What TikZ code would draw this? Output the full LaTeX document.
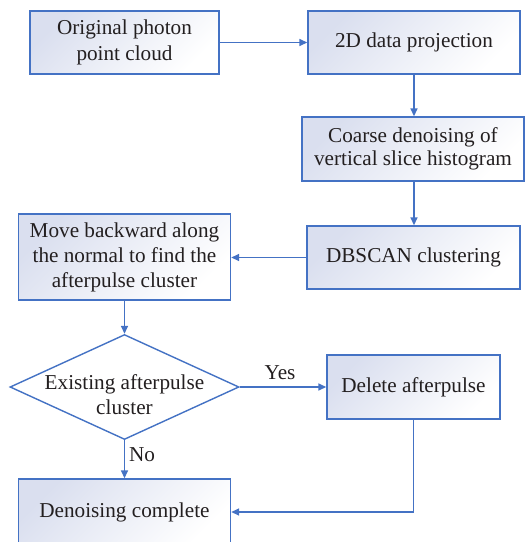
\documentclass[tikz,border=0pt]{standalone}
\usepackage{fontspec}
\setmainfont{Liberation Serif}
\usetikzlibrary{arrows.meta,shapes.geometric}
\definecolor{edgeblue}{RGB}{68,114,196}
\definecolor{boxtint}{RGB}{218,223,239}
\definecolor{ink}{RGB}{35,31,32}
\tikzset{
  stepbox/.style={draw=edgeblue, line width=1.4pt, rectangle, inner sep=0pt,
    top color=boxtint, bottom color=white, shading angle=45,
    text=ink, align=center, font=\fontsize{21.2}{25}\selectfont},
  decision/.style={draw=edgeblue, line width=1.4pt, diamond, fill=white,
    inner sep=0pt, minimum width=229pt, minimum height=105pt},
  txt/.style={text=ink, align=center, font=\fontsize{21.2}{25}\selectfont, inner sep=0pt},
  arr/.style={draw=edgeblue, line width=1.5pt, -{Triangle[length=8pt,width=7pt]}}
}
\begin{document}
\begin{tikzpicture}[x=1pt,y=-1pt]
\useasboundingbox (0,0) rectangle (525,542);

% process boxes
\node[stepbox, minimum width=189pt, minimum height=63pt,
  font=\fontsize{21.2}{26.5}\selectfont] (b1) at (124.5,42.5) {Original photon\\point cloud};
\node[stepbox, minimum width=212pt, minimum height=63pt] (b2) at (414,42.5) {2D data projection};
\node[stepbox, minimum width=222pt, minimum height=64pt,
  font=\fontsize{21.2}{23.5}\selectfont] (b3) at (413,149) {Coarse denoising of\\vertical slice histogram};
\node[stepbox, minimum width=213pt, minimum height=63pt] (b4) at (413.5,257.5) {DBSCAN clustering};
\node[stepbox, minimum width=212pt, minimum height=86pt] (b5) at (124.5,257) {Move backward along\\the normal to find the\\afterpulse cluster};
% decision
\node[decision] (d) at (124.5,387) {};
\node[txt] (dt) at (124.5,395) {Existing afterpulse\\cluster};
\node[stepbox, minimum width=173pt, minimum height=64pt] (b6) at (413.5,387) {Delete afterpulse};
\node[stepbox, minimum width=212pt, minimum height=66pt] (b7) at (124.5,512) {Denoising complete};

\node[txt] (yes) at (280,373) {Yes};
\node[txt] (no) at (142,455) {No};

% connectors
\draw[arr] (b1.east) -- (b2.west);
\draw[arr] (b2.south) -- (b2.south |- b3.north);
\draw[arr] (b3.south -| b2.south) -- (b2.south |- b4.north);
\draw[arr] (b4.west) -- (b4.west -| b5.east);
\draw[arr] (b5.south) -- (d.north);
\draw[arr] (d.east) -- (b6.west);
\draw[arr] (d.south) -- (b7.north);
\draw[arr] (b6.south) |- (b7.east);
\end{tikzpicture}
\end{document}
